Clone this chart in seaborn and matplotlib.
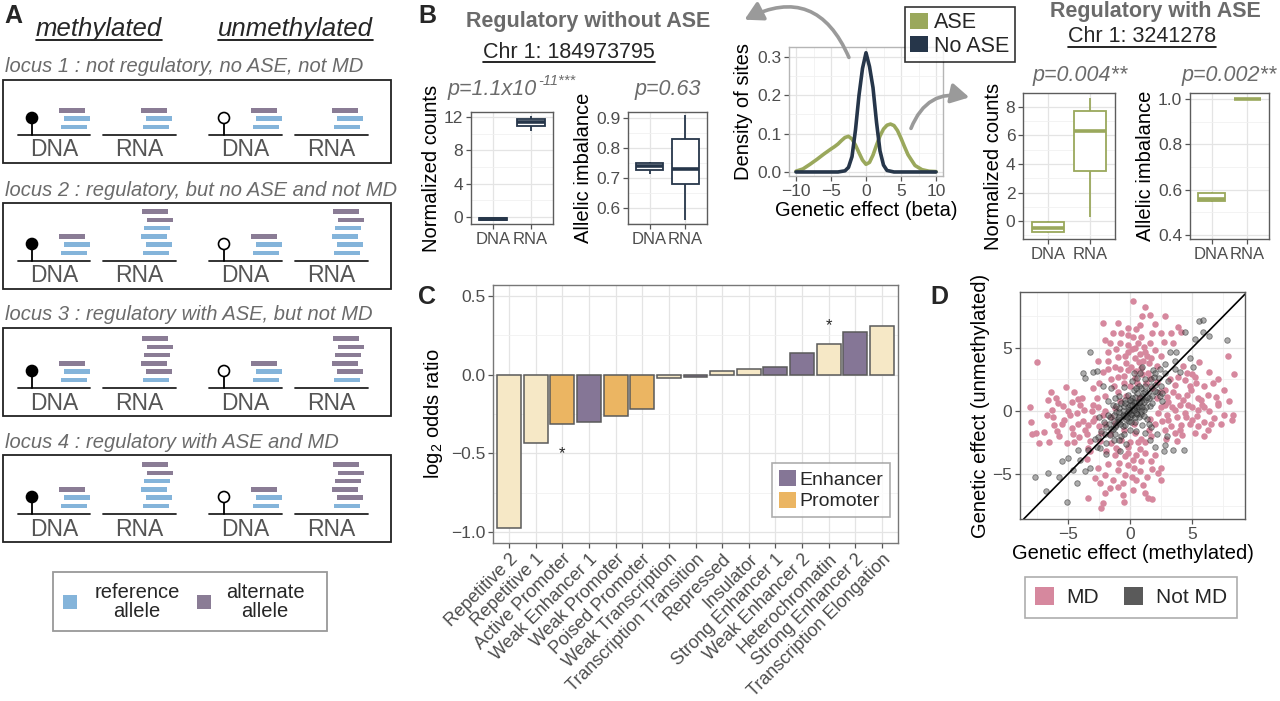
import numpy as np
import pandas as pd
import matplotlib
matplotlib.use("Agg")
import matplotlib.pyplot as plt
import seaborn as sns
from matplotlib.patches import Rectangle, Circle, Patch, FancyArrowPatch
from matplotlib.ticker import AutoMinorLocator

sns.set_theme(style="whitegrid")
plt.rcParams["font.family"] = ["Liberation Sans", "DejaVu Sans"]
plt.rcParams["mathtext.fontset"] = "custom"
plt.rcParams["mathtext.rm"] = "Liberation Sans"
plt.rcParams["mathtext.it"] = "Liberation Sans:italic"

# ---------------- data ----------------
# panel A: allele stacks, top to bottom (a = alternate, r = reference)
locus_titles = ["locus 1 : not regulatory, no ASE, not MD",
                "locus 2 : regulatory, but no ASE and not MD",
                "locus 3 : regulatory with ASE, but not MD",
                "locus 4 : regulatory with ASE and MD"]
locus_stacks = [["arr", "arr", "arr", "arr"],
                ["arr", "aarrrr", "arr", "aarrrr"],
                ["arr", "aaaaar", "arr", "aaaaar"],
                ["arr", "aarrrr", "arr", "aaaaar"]]
seq_labels = ["DNA", "RNA", "DNA", "RNA"]

# panel B boxplots (whisker low, q1, median, q3, whisker high)
noase_counts_dna = [-0.32, -0.3, -0.2, -0.1, -0.08]
noase_counts_rna = [10.3, 10.9, 11.4, 11.8, 12.1]
noase_imb_dna = [0.715, 0.727, 0.74, 0.75, 0.755]
noase_imb_rna = [0.56, 0.68, 0.73, 0.83, 0.91]
ase_counts_dna = [-0.85, -0.8, -0.5, -0.1, 0.0]
ase_counts_rna = [0.3, 3.5, 6.3, 7.7, 8.6]
ase_imb_dna = [0.545, 0.548, 0.56, 0.585, 0.59]
ase_imb_rna = [1.0, 1.0, 1.0, 1.0, 1.0]

# panel B density of genetic effects
ase_beta = [-10, -9, -8, -7, -6, -5, -4.5, -4, -3.5, -3, -2.5, -2, -1.5, -1, -0.5, 0,
            0.5, 1, 1.5, 2, 2.5, 3, 3.5, 4, 4.5, 5, 5.5, 6, 7, 8, 9, 10]
ase_density = [0.002, 0.008, 0.02, 0.033, 0.047, 0.06, 0.066, 0.073, 0.082, 0.09, 0.093,
               0.086, 0.07, 0.05, 0.031, 0.02, 0.025, 0.044, 0.07, 0.094, 0.112, 0.122,
               0.125, 0.121, 0.108, 0.088, 0.066, 0.045, 0.017, 0.006, 0.002, 0.001]
noase_beta = [-10, -5, -4, -3, -2.5, -2, -1.5, -1, -0.5, 0, 0.5, 1, 1.5, 2, 2.5, 3, 4, 5, 10]
noase_density = [0.0, 0.0, 0.0, 0.003, 0.012, 0.04, 0.11, 0.2, 0.27, 0.311, 0.275,
                 0.22, 0.13, 0.055, 0.018, 0.004, 0.0, 0.0, 0.0]

# panel C
states = ["Repetitive 2", "Repetitive 1", "Active Promoter", "Weak Enhancer 1",
          "Weak Promoter", "Poised Promoter", "Weak Transcription",
          "Transcription Transition", "Repressed", "Insulator", "Strong Enhancer 1",
          "Weak Enhancer 2", "Heterochromatin", "Strong Enhancer 2",
          "Transcription Elongation"]
log_or = [-0.973, -0.434, -0.313, -0.302, -0.26, -0.219, -0.019, -0.013, 0.023,
          0.034, 0.049, 0.138, 0.193, 0.272, 0.308]
state_group = ["Other", "Other", "Promoter", "Enhancer", "Promoter", "Promoter", "Other",
               "Enhancer", "Other", "Other", "Enhancer", "Enhancer", "Other",
               "Enhancer", "Other"]
star_states = ["Active Promoter", "Heterochromatin"]

# panel D: genetic effect methylated (x) vs unmethylated (y)
md_pts = [(0.24, 8.7), (1.18, 8.28), (1.58, 7.6), (2.8, 7.56), (-2.18, 6.96), (2.0, 6.9),
          (-0.16, 6.6), (0.5, 6.5), (3.87, 6.7), (4.1, 6.3), (-1.37, 6.15), (-0.7, 6.15),
          (-2.0, 5.6), (0.24, 5.9), (0.9, 5.9), (1.8, 6.2), (2.5, 6.2), (3.5, 5.4),
          (-1.65, 5.4), (-0.8, 5.4), (0.65, 5.4), (1.6, 5.4), (-1.8, 4.7), (-0.16, 4.7),
          (0.4, 5.0), (1.2, 4.7), (2.0, 4.8), (-2.6, 4.0), (-1.8, 4.0), (-0.97, 4.3),
          (0.4, 4.2), (1.05, 4.0), (1.7, 4.2), (2.5, 4.4), (7.9, 4.4), (-7.5, 3.9),
          (-1.2, 3.5), (-0.16, 3.25), (0.9, 3.4), (1.45, 3.0), (-2.2, 3.1), (-0.97, 2.7),
          (0.4, 2.6), (5.6, 3.9), (6.4, 3.1), (8.4, 2.9), (7.1, 2.5), (5.2, 2.7),
          (3.6, 2.1), (4.4, 2.45), (2.8, 1.7), (6.0, 1.95), (7.6, 1.7), (4.9, 1.7),
          (3.9, 1.15), (5.7, 0.9), (7.1, 0.6), (4.7, 0.5), (3.1, 0.75), (-6.35, 1.5),
          (-5.2, 1.9), (-6.6, 0.85), (-4.7, 0.75), (-8.1, 0.3), (-4.2, 0.95), (-5.8, 0.6),
          (-8.0, -0.85), (-7.6, -1.77), (-7.3, -2.57), (-6.3, 0.08), (-6.9, -1.64),
          (-6.1, -1.1), (-5.3, -0.71), (-5.7, -2.0), (-4.7, -1.38), (-5.1, -2.57),
          (-4.3, -0.18), (-4.1, -2.04), (-3.4, -1.1), (-3.7, 0.08), (-2.85, -0.58),
          (-3.25, -2.4), (-2.3, -1.77), (-2.6, 0.34), (-2.2, -0.32), (-1.23, -0.98),
          (-1.5, -2.57), (-0.97, -3.1), (-0.43, -3.6), (0.24, -3.9), (0.91, -4.0),
          (1.72, -4.0), (1.18, -3.36), (-0.16, -2.83), (0.65, -2.44), (-2.6, -4.55),
          (-2.85, -5.3), (-2.45, -5.7), (-2.0, -5.1), (-1.37, -5.5), (-0.97, -4.7),
          (-0.43, -5.1), (-1.6, -6.1), (-3.4, -6.9), (-2.2, -7.3), (-2.35, -7.7),
          (-0.56, -6.67), (0.24, -6.27), (1.2, -6.5), (1.05, -5.87), (1.45, -6.93),
          (2.26, -4.95), (2.5, -5.5), (2.5, -4.55), (3.1, -0.71), (4.1, -1.1),
          (5.0, -0.71), (5.2, -1.77), (6.0, -0.85), (6.8, -0.58), (7.6, -0.32),
          (8.2, -0.71), (3.6, -1.77), (4.4, -0.18), (5.5, 0.08), (7.1, 0.48),
          (6.0, 0.34), (3.6, 0.08), (2.26, -0.18), (2.8, 0.48), (0.4, -1.77),
          (-0.7, -2.3), (1.72, -2.0), (-1.0, 1.5), (-0.5, 2.2), (0.5, 3.2), (1.5, 3.8),
          (-1.5, 2.5), (0.8, 4.5), (-0.3, 3.8), (1.3, 2.2), (2.2, 1.0), (3.0, -0.3),
          (2.0, -1.0), (2.5, 0.3), (3.5, 1.5), (4.0, 0.5), (-2.0, 0.0), (-1.5, -0.5),
          (-2.5, -1.2), (-3.0, 0.5), (-0.5, -1.5), (0.0, -2.5), (0.8, -3.0),
          (-1.2, -3.5), (1.5, -1.5), (-0.8, 0.8), (2.8, -1.5), (-2.0, 1.2),
          (-3.5, -1.8), (0.3, -4.5), (1.8, 1.8), (4.5, -0.5), (3.2, 2.5), (-0.2, 5.2),
          (-4.0, 0.5), (-4.5, -2.5), (5.5, 1.0), (6.5, -1.0), (4.8, 2.0), (6.0, -2.0),
          (-5.5, -1.0), (-6.0, 1.0), (-3.8, -0.8), (-7.9, -1.8), (-6.5, -2.5),
          (8.3, -0.3), (8.0, 0.8), (-3.4, -2.9), (4.2, -1.9), (5.5, -1.2), (3.8, -2.4),
          (6.3, 1.3), (6.7, 2.2), (5.0, 2.9), (4.3, 3.6), (-4.5, 1.5), (-3.0, 1.8),
          (-5.0, 0.0), (-6.2, -0.5), (-1.0, -6.0), (0.5, -5.5), (-2.0, -6.5),
          (2.0, -3.5), (-3.5, -3.8), (1.0, 7.5), (-1.0, 7.0), (2.7, 5.5), (3.3, 6.2),
          (4.6, 3.0), (-0.5, -7.2), (1.8, -7.0),
          (-0.5, 2.8), (0.1, 3.5), (0.7, 3.9), (1.1, 5.1), (-0.4, 4.4), (-1.1, 4.9),
          (0.2, 4.9), (1.4, 4.4), (-0.8, 3.3), (0.6, 2.2), (1.0, 2.9), (-1.3, 2.0),
          (0.0, 2.0), (1.6, 2.6), (-0.2, 6.0), (0.8, 6.8), (-1.8, 3.3), (2.2, 3.6),
          (2.2, 2.3), (-2.5, 2.2), (2.6, -0.8), (3.3, -1.2), (3.8, -0.5), (4.3, 0.9),
          (5.0, 0.3), (5.4, -0.4), (4.6, 1.3), (3.4, 0.3), (2.4, 1.5), (3.0, 1.1),
          (4.0, -1.5), (4.8, -1.0), (5.8, 0.5), (6.4, 0.0), (6.9, 1.1), (5.3, 2.2),
          (3.9, 2.7), (2.9, -2.2), (6.3, -1.5), (7.3, -1.0), (-3.0, -0.8), (-3.6, -1.5),
          (-4.2, -1.0), (-4.8, -0.3), (-2.4, -2.4), (-3.1, 0.0), (-5.4, 0.4),
          (-4.6, -1.8), (-3.9, 1.0), (-2.7, 1.0), (-5.9, -1.6), (-6.7, -0.3),
          (-3.2, -3.2), (-2.0, -1.0), (-0.9, -4.1), (-0.2, -4.3), (0.5, -3.5),
          (-1.8, -4.2), (-1.1, -2.9), (0.2, -5.2), (1.4, -5.2), (-0.6, -5.7),
          (0.8, -4.8), (-1.9, -3.2), (1.8, -4.6), (-0.2, -3.3), (0.9, -2.2),
          (-1.6, -1.8), (-0.3, 1.2), (0.7, 1.0), (1.6, -0.6), (-1.2, 0.2), (0.3, -1.0),
          (1.2, -2.5)]
notmd_pts = [(-3.25, 4.66), (-3.8, 3.0), (-3.0, 3.1), (-2.7, 3.2), (-3.65, 2.6),
             (5.6, 7.1), (5.9, 7.2), (5.9, 6.3), (6.4, 5.95), (7.8, 5.6), (4.4, 6.3),
             (5.2, 5.75), (3.2, 4.7), (3.7, 4.7), (4.8, 4.2), (5.1, 3.5), (4.0, 3.1),
             (3.6, 3.3), (2.4, 3.3), (2.8, 3.7), (3.6, 4.0), (1.86, 3.25), (1.72, 2.5),
             (-7.7, -5.2), (-6.8, -6.35), (-6.6, -4.95), (-5.7, -5.2), (-5.1, -7.2),
             (-5.5, -4.0), (-5.0, -3.76), (-4.6, -4.7), (-4.3, -5.7), (-4.06, -3.9),
             (-3.65, -4.8), (-3.25, -4.55), (-4.2, -3.1), (-3.4, -3.1), (-2.7, -2.83),
             (-1.9, -2.57), (-2.6, -2.04), (3.47, -3.1), (4.33, -3.1), (2.7, -3.2),
             (1.99, -2.83), (1.58, -2.3), (2.8, -2.7), (1.18, -1.77),
             (0, 0), (0.3, 0.2), (-0.3, -0.2), (0.5, 0.6), (-0.5, -0.4), (0.8, 0.5),
             (-0.8, -0.7), (1.0, 1.2), (-1.0, -0.9), (0.2, -0.3), (-0.2, 0.3), (1.3, 0.9),
             (-1.2, -1.3), (0.6, 1.4), (-0.6, -1.2), (1.5, 1.6), (-1.5, -1.4), (0.1, 0.8),
             (-0.1, -0.8), (0.9, -0.2), (-0.9, 0.2), (1.8, 1.2), (-1.7, -1.0), (0.4, -0.9),
             (-0.4, 0.9), (1.1, 0.1), (-1.1, -0.1), (2.0, 2.1), (-2.0, -1.8), (0.7, 2.0),
             (-0.7, -2.0), (1.6, 0.4), (-1.6, -0.5), (2.2, 1.5), (-2.3, -1.6), (0.3, 1.7),
             (1.2, 2.5), (-0.2, 1.3), (0.0, -1.5), (1.4, -0.6), (-1.4, 0.5), (2.5, 2.0),
             (0.8, 3.0), (1.9, 2.7), (-0.5, 1.9), (-0.9, 1.2), (0.5, -1.6), (1.0, -1.1),
             (-1.8, 0.8), (-2.5, -0.5), (2.6, 0.8), (1.7, -1.3), (-1.3, -2.3), (0.2, 2.4),
             (2.3, 2.6), (-0.3, -2.6), (0.6, 0.1), (-0.6, 0.0), (0.0, 0.5), (0.0, -0.5),
             (0.4, 0.4), (-0.4, -0.4), (1.1, 0.7), (-1.0, -0.6), (0.7, -0.5), (-0.7, 0.6),
             (1.5, 1.0), (0.9, 1.8), (-1.2, -1.8), (2.8, 3.0), (-1.5, 1.8), (-2.2, 2.0),
             (1.0, 3.5), (0.3, 3.0), (2.2, -1.8), (3.0, -2.0), (-0.8, -3.2), (-1.9, -3.4),
             (0.2, 0.1), (0.5, 0.3), (-0.2, -0.1), (0.1, -0.2), (-0.1, 0.1), (0.3, 0.7),
             (0.7, 0.3), (-0.3, -0.6), (-0.6, -0.3), (0.9, 0.8), (-0.9, -0.5), (1.2, 1.5),
             (1.4, 1.1), (-1.1, -1.1), (-1.3, -0.8), (0.4, 1.1), (1.1, -0.4), (-0.4, -1.1),
             (-1.1, 0.4), (0.6, -0.2), (-0.5, 0.4), (1.7, 2.0), (2.0, 1.6), (-1.9, -1.3),
             (-1.6, -1.9), (0.2, 1.0), (1.0, 0.3), (0.8, 1.0), (-0.8, -1.0), (0.0, 0.9),
             (0.9, 0.0), (-0.9, -0.1), (0.1, -0.9), (1.3, 0.3), (-1.3, -0.3), (0.5, 1.8),
             (1.8, 0.6), (-0.5, -1.8), (-1.8, -0.3), (2.4, 1.2), (1.2, 2.0), (-2.1, -0.9),
             (-0.9, -2.3), (0.6, 2.6), (2.6, 1.4), (-2.8, -2.2), (-2.4, -2.9), (3.1, 2.4),
             (2.0, 3.0), (1.5, -1.0), (-1.2, 1.0), (0.4, -0.5), (-0.4, 0.6), (0.15, 0.45),
             (0.45, -0.15), (-0.25, -0.45), (0.75, 0.75), (1.05, 1.45), (-1.35, -1.45),
             (0.35, 0.05)]

# ---------------- style ----------------
W, H = 1280, 701
ref_col, alt_col = "#84b4da", "#8a7c95"
navy, green = "#26364a", "#9aa85c"
enh_col, prom_col, other_col = "#857696", "#ebb562", "#f6e8c6"
pink, dgray = "#d6889e", "#5a5a5a"
gray_txt = "#6b6b6b"

fig = plt.figure(figsize=(12.8, 7.01), dpi=100)


def add_ax(x0, y0, x1, y1):
    return fig.add_axes([x0 / W, 1 - y1 / H, (x1 - x0) / W, (y1 - y0) / H])


def gg_style(ax, frame="#5c5c5c", minor_x=True, minor_y=True):
    ax.set_facecolor("white")
    for s in ax.spines.values():
        s.set_visible(True)
        s.set_color(frame)
        s.set_linewidth(1.0)
    if minor_x:
        ax.xaxis.set_minor_locator(AutoMinorLocator(2))
    if minor_y:
        ax.yaxis.set_minor_locator(AutoMinorLocator(2))
    ax.grid(True, which="major", color="#e4e4e4", lw=0.9)
    ax.grid(True, which="minor", color="#f1f1f1", lw=0.6)
    ax.set_axisbelow(True)
    ax.tick_params(which="major", length=3.5, width=0.9, color="#555555",
                   labelcolor="#4d4d4d", labelsize=12.5, pad=2, left=True, bottom=True)
    ax.tick_params(which="minor", length=0)


def box_panel(box, dna, rna, color, ylim, yticks, ylabel, fmt):
    ax = add_ax(*box)
    df = pd.DataFrame({"type": ["DNA"] * len(dna) + ["RNA"] * len(rna),
                       "value": dna + rna})
    sns.boxplot(data=df, x="type", y="value", ax=ax, color="white", linecolor=color,
                width=0.75, linewidth=1.3, showcaps=False, fliersize=0,
                medianprops={"linewidth": 2.6, "color": color})
    ax.set_xlim(-0.6, 1.6)
    ax.set_ylim(*ylim)
    ax.set_yticks(yticks)
    ax.set_yticklabels([fmt.format(v) for v in yticks])
    gg_style(ax, minor_x=False)
    ax.tick_params(axis="x", labelsize=12)
    ax.set_xlabel("")
    ax.set_ylabel(ylabel, fontsize=14.5, color="black", labelpad=2)
    return ax


# overlay for schematic, titles, arrows
ov = fig.add_axes([0, 0, 1, 1])
ov.set_xlim(0, W)
ov.set_ylim(H, 0)
ov.axis("off")
ov.set_zorder(10)

# ---------------- panel A ----------------
ov.text(4, 16, "A", fontsize=18, fontweight="bold", va="center")
t_meth = ov.text(99, 29, "methylated", fontsize=18.5, style="italic", ha="center", va="center")
t_unmeth = ov.text(295, 29, "unmethylated", fontsize=18.5, style="italic", ha="center", va="center")

box_tops = [80, 203, 328, 455]
baselines = [135, 261, 388, 514]
seg_x = [(18, 90), (103, 176), (209, 282), (295, 368)]
stack_x = [60, 142, 252, 333]
lolli_x = [32, 224]
jitter = [1, 4, -1, 2, 5, 0]
for top, base, title, stacks in zip(box_tops, baselines, locus_titles, locus_stacks):
    ov.text(5, top - 13, title, fontsize=14.5, style="italic", color=gray_txt, va="center")
    ov.add_patch(Rectangle((3, top), 388, base + 28 - top, fill=False, ec="#222222", lw=1.3))
    for (sx0, sx1), lab in zip(seg_x, seq_labels):
        ov.plot([sx0, sx1], [base, base], color="#222222", lw=1.3)
        ov.text((sx0 + sx1) / 2, base + 15, lab, fontsize=16.5, color="#555555",
                ha="center", va="center")
    for lx, filled in zip(lolli_x, [True, False]):
        ov.plot([lx, lx], [base, base - 17], color="black", lw=1.3)
        ov.add_patch(Circle((lx, base - 17), 5.5, fc="black" if filled else "white",
                            ec="black", lw=1.2, zorder=3))
    for sx, stack in zip(stack_x, stacks):
        n = len(stack)
        for j, allele in enumerate(stack):
            i = n - 1 - j
            yc = base - 8 - 8.3 * i
            ov.add_patch(Rectangle((sx + jitter[i], yc - 2.3), 26, 4.6, ec="none",
                                   fc=ref_col if allele == "r" else alt_col))

ov.add_patch(Rectangle((53, 572), 274, 59, fill=False, ec="#999999", lw=1.3))
ov.add_patch(Rectangle((63, 595), 14, 14, fc=ref_col, ec="none"))
ov.add_patch(Rectangle((197, 595), 14, 14, fc=alt_col, ec="none"))
ov.text(137, 602, "reference\nallele", fontsize=14.5, ha="center", va="center", linespacing=1.0)
ov.text(265, 602, "alternate\nallele", fontsize=14.5, ha="center", va="center", linespacing=1.0)

# ---------------- panel B ----------------
ov.text(418, 16, "B", fontsize=18, fontweight="bold", va="center")
ov.text(588, 22, "Regulatory without ASE", fontsize=15.5, fontweight="bold",
        color=gray_txt, ha="center", va="center")
t_chr1 = ov.text(569, 52, "Chr 1: 184973795", fontsize=15.5, ha="center", va="center")
ov.text(1155, 11, "Regulatory with ASE", fontsize=15.5, fontweight="bold",
        color=gray_txt, ha="center", va="center")
t_chr2 = ov.text(1142, 37, "Chr 1: 3241278", fontsize=15.5, ha="center", va="center")

ov.text(537, 95, "p=1.1x10", fontsize=15.5, style="italic", color=gray_txt, ha="right", va="baseline")
ov.text(538, 85, "-11***", fontsize=10.5, style="italic", color=gray_txt, ha="left", va="baseline")
ov.text(668, 89, "p=0.63", fontsize=15.5, style="italic", color=gray_txt, ha="center", va="center")
ov.text(1080, 76, "p=0.004**", fontsize=15.5, style="italic", color=gray_txt, ha="center", va="center")
ov.text(1229, 76, "p=0.002**", fontsize=15.5, style="italic", color=gray_txt, ha="center", va="center")

box_panel((471, 112, 553, 224), noase_counts_dna, noase_counts_rna, navy,
          (-0.84, 12.6), [0, 4, 8, 12], "Normalized counts", "{:.0f}")
box_panel((628, 112, 707, 224), noase_imb_dna, noase_imb_rna, navy,
          (0.547, 0.92), [0.6, 0.7, 0.8, 0.9], "Allelic imbalance", "{:.1f}")
box_panel((1023, 93, 1115, 239), ase_counts_dna, ase_counts_rna, green,
          (-1.26, 8.98), [0, 2, 4, 6, 8], "Normalized counts", "{:.0f}")
box_panel((1190, 93, 1269, 239), ase_imb_dna, ase_imb_rna, green,
          (0.382, 1.026), [0.4, 0.6, 0.8, 1.0], "Allelic imbalance", "{:.1f}")

axd = add_ax(789, 47, 943, 176)
sns.lineplot(x=ase_beta, y=ase_density, color=green, lw=2.6, ax=axd)
sns.lineplot(x=noase_beta, y=noase_density, color=navy, lw=2.6, ax=axd)
axd.set_xlim(-11, 11)
axd.set_ylim(-0.0105, 0.326)
axd.set_xticks([-10, -5, 0, 5, 10])
axd.set_xticklabels(["\u221210", "\u22125", "0", "5", "10"])
axd.set_yticks([0, 0.1, 0.2, 0.3])
axd.set_yticklabels(["0.0", "0.1", "0.2", "0.3"])
gg_style(axd, frame="#b5b5b5")
axd.set_xlabel("Genetic effect (beta)", fontsize=14.5, color="black", labelpad=2)
axd.set_ylabel("Density of sites", fontsize=14.5, color="black", labelpad=3)
leg = axd.legend(handles=[Patch(fc=green, ec="none"), Patch(fc=navy, ec="none")],
                 labels=["ASE", "No ASE"], loc="upper left",
                 bbox_to_anchor=(905 / W, 1 - 7 / H), bbox_transform=fig.transFigure,
                 fontsize=15.5, frameon=True, fancybox=False, handlelength=0.8,
                 handleheight=0.8, handletextpad=0.3, borderpad=0.25, labelspacing=0.1,
                 borderaxespad=0)
leg.get_frame().set_edgecolor("black")
leg.get_frame().set_linewidth(1.2)

arrow_kw = dict(arrowstyle="-|>,head_length=0.9,head_width=0.5", color="#9a9a9a",
                lw=2.6, mutation_scale=12)
ov.add_patch(FancyArrowPatch((850, 60), (742, 21), connectionstyle="arc3,rad=0.55", **arrow_kw))
ov.add_patch(FancyArrowPatch((910, 131), (972, 98), connectionstyle="arc3,rad=-0.45", **arrow_kw))

# ---------------- panel C ----------------
ov.text(418, 297, "C", fontsize=18, fontweight="bold", va="center")
axc = add_ax(493, 285, 898, 543)
df_c = pd.DataFrame({"state": states, "log_or": log_or, "group": state_group})
sns.barplot(data=df_c, x="state", y="log_or", hue="group", order=states,
            palette={"Enhancer": enh_col, "Promoter": prom_col, "Other": other_col},
            dodge=False, width=0.9, edgecolor="#5a5a5a", linewidth=1.1, saturation=1,
            errorbar=None, legend=False, ax=axc)
axc.set_xlim(-0.6, len(states) - 0.4)
axc.set_ylim(-1.07, 0.57)
axc.set_yticks([-1.0, -0.5, 0.0, 0.5])
axc.set_yticklabels(["\u22121.0", "\u22120.5", "0.0", "0.5"])
gg_style(axc, frame="#777777", minor_x=False)
axc.tick_params(axis="x", labelsize=13)
plt.setp(axc.get_xticklabels(), rotation=45, ha="right", rotation_mode="anchor")
axc.set_xlabel("")
axc.set_ylabel("log$_2$ odds ratio", fontsize=14.5, color="black", labelpad=4)
for s in star_states:
    i = states.index(s)
    v = log_or[i]
    axc.text(i, v + (0.12 if v > 0 else -0.19), "*", ha="center", va="center", fontsize=12)
legc = axc.legend(handles=[Patch(fc=enh_col, ec="none"), Patch(fc=prom_col, ec="none")],
                  labels=["Enhancer", "Promoter"], loc="upper left",
                  bbox_to_anchor=(772 / W, 1 - 463 / H), bbox_transform=fig.transFigure,
                  fontsize=14, frameon=True, fancybox=False, handlelength=0.9,
                  handleheight=0.9, handletextpad=0.15, borderpad=0.35, labelspacing=0.15,
                  borderaxespad=0)
legc.get_frame().set_edgecolor("#999999")
legc.get_frame().set_linewidth(1.2)

# ---------------- panel D ----------------
ov.text(930, 297, "D", fontsize=18, fontweight="bold", va="center")
axs = add_ax(1020, 292, 1245, 519)
md_x, md_y = zip(*md_pts)
nm_x, nm_y = zip(*notmd_pts)
sns.scatterplot(x=list(md_x), y=list(md_y), color=pink, s=22, linewidth=0, ax=axs)
sns.scatterplot(x=list(nm_x), y=list(nm_y), color=dgray, alpha=0.5, s=16,
                edgecolor="#1a1a1a", linewidth=0.6, ax=axs)
axs.axline((0, 0), slope=1, color="black", lw=1.2)
axs.set_xlim(-8.87, 9.27)
axs.set_ylim(-8.57, 9.44)
axs.set_xticks([-5, 0, 5])
axs.set_yticks([-5, 0, 5])
axs.set_xticklabels(["\u22125", "0", "5"])
axs.set_yticklabels(["\u22125", "0", "5"])
gg_style(axs, frame="#5c5c5c")
axs.set_xlabel("Genetic effect (methylated)", fontsize=14.5, color="black", labelpad=2)
axs.set_ylabel("Genetic effect (unmethylated)", fontsize=14.5, color="black", labelpad=2)
legd = axs.legend(handles=[Patch(fc=pink, ec="none"), Patch(fc=dgray, ec="none")],
                  labels=["MD", "Not MD"], loc="upper left", ncol=2,
                  bbox_to_anchor=(1025 / W, 1 - 577 / H), bbox_transform=fig.transFigure,
                  fontsize=15, frameon=True, fancybox=False, handlelength=0.9,
                  handleheight=0.9, handletextpad=0.6, columnspacing=1.2, borderpad=0.5,
                  borderaxespad=0)
legd.get_frame().set_edgecolor("#999999")
legd.get_frame().set_linewidth(1.2)

# underlines
fig.canvas.draw()
renderer = fig.canvas.get_renderer()
inv = ov.transData.inverted()
for t in [t_meth, t_unmeth, t_chr1, t_chr2]:
    bb = t.get_window_extent(renderer)
    (xa, ya), (xb, yb) = inv.transform([(bb.x0, bb.y0), (bb.x1, bb.y1)])
    ov.plot([xa, xb], [ya - 1, ya - 1], color="black", lw=1.2)

fig.savefig("out.png", dpi=100)
